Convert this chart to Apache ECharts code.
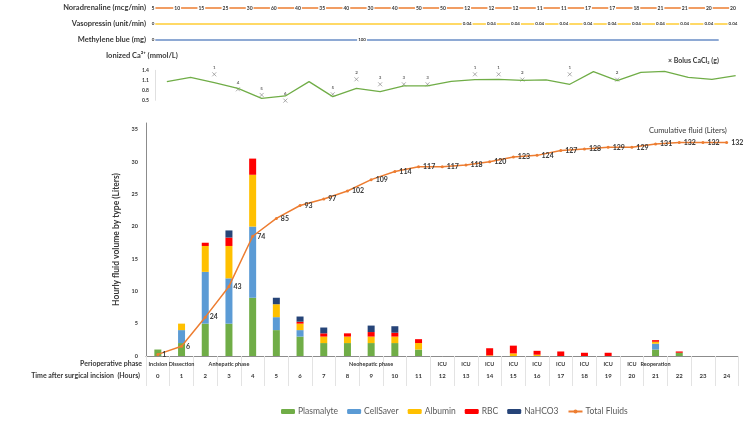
<!DOCTYPE html>
<html>
<head>
<meta charset="utf-8">
<script src="https://cdn.jsdelivr.net/npm/echarts@6/dist/echarts.min.js"></script>
<style>
html, body { margin: 0; padding: 0; background: #fff; }
#main { width: 750px; height: 422px; }
</style>
</head>
<body>
<div id="main"></div>
<script>
var FONT = 'Lato';
var TXT = '#383838';

// hourly columns
var hours = ['0','1','2','3','4','5','6','7','8','9','10','11','12','13','14','15','16','17','18','19','20','21','22','23','24'];
var phases = ['Incision','Dissection','','Anhepatic phase','','','','','','Neohepatic phase','','','ICU','ICU','ICU','ICU','ICU','ICU','ICU','ICU','ICU','Reoperation','','',''];

// fluids per hour (Liters)
var plasmalyte = [1, 2, 5, 5, 9, 4, 3, 2, 2, 2, 2, 1, 0, 0, 0, 0, 0, 0, 0, 0, 0, 1, 0.5, 0, 0];
var cellSaver  = [0, 2, 8, 7, 11, 2, 1, 0, 0, 0, 0, 0, 0, 0, 0, 0, 0, 0, 0, 0, 0, 0.9, 0, 0, 0];
var albumin    = [0, 1, 4, 5, 8, 2, 1, 1, 1, 1, 1, 1, 0, 0, 0.1, 0.4, 0.2, 0, 0, 0, 0, 0.3, 0, 0, 0];
var rbc        = [0, 0, 0.5, 1.3, 2.5, 0, 0.3, 0.5, 0.5, 0.7, 0.6, 0.6, 0, 0, 1.1, 1.2, 0.6, 0.7, 0.5, 0.5, 0, 0.25, 0.2, 0, 0];
var nahco3     = [0, 0, 0, 1.1, 0, 1, 0.8, 0.9, 0, 1, 1, 0, 0, 0, 0, 0, 0, 0, 0, 0, 0, 0, 0, 0, 0];
var totalFluids = [1, 6, 24, 43, 74, 85, 93, 97, 102, 109, 114, 117, 117, 118, 120, 123, 124, 127, 128, 129, 129, 131, 132, 132, 132];

// drug rows
var rowNames = ['Noradrenaline (mcg/min)', 'Vasopressin (unit/min)', 'Methylene blue (mg)'];
var noradrenaline = [5, 10, 15, 25, 30, 60, 40, 35, 40, 30, 40, 50, 50, 12, 12, 12, 11, 11, 17, 17, 18, 21, 21, 20, 20];
var vasopressin = [0, 0, 0, 0, 0, 0, 0, 0, 0, 0, 0, 0, 0, 0.04, 0.04, 0.04, 0.04, 0.04, 0.04, 0.04, 0.04, 0.04, 0.04, 0.04, 0.04];
var methyleneHours = [0, 8.65, 23.4];
var methyleneDose = ['0', '100', ''];

// ionized calcium
var ionCa = [1.06, 1.19, 1.03, 0.86, 0.56, 0.63, 1.06, 0.61, 0.86, 0.76, 0.93, 0.93, 1.07, 1.12, 1.13, 1.10, 1.11, 0.98, 1.36, 1.09, 1.34, 1.37, 1.19, 1.13, 1.24];
var bolusHour = [2, 3, 4, 5, 7, 8, 9, 10, 11, 13, 14, 15, 17, 19];
var bolusCa = [1.28, 0.83, 0.66, 0.49, 0.68, 1.13, 0.98, 0.98, 0.98, 1.28, 1.28, 1.12, 1.28, 1.12];
var bolusGrams = [1, 4, 5, 6, 5, 2, 3, 3, 3, 1, 1, 2, 1, 2];

var myChart = echarts.init(document.getElementById('main'));

function rowLabel(size) {
    return {
        show: true, position: 'inside', fontFamily: FONT, fontSize: size, fontWeight: 'bold',
        color: TXT, backgroundColor: '#fff', padding: [0, 1]
    };
}

var noraData = noradrenaline.map(function (v, i) {
    return { value: [i, 0], label: { formatter: String(v) } };
});
var vasoData = vasopressin.map(function (v, i) {
    return { value: [i, 1], label: { show: i === 0 || v > 0, formatter: String(v) } };
});
var mbData = methyleneHours.map(function (h, i) {
    return { value: [h, 2], label: { show: methyleneDose[i] !== '', formatter: methyleneDose[i] } };
});
var bolusData = bolusHour.map(function (h, i) {
    return { value: [h, bolusCa[i]], label: { formatter: String(bolusGrams[i]) } };
});

function barSeries(name, data, color) {
    return {
        name: name, type: 'bar', stack: 'fluid', xAxisIndex: 2, yAxisIndex: 2,
        barWidth: 7, data: data, itemStyle: { color: color }
    };
}

var caTicks = [0.5, 0.8, 1.1, 1.4];

option = {
    animation: false,
    textStyle: { fontFamily: FONT },
    grid: [
        { left: 153, right: 17, top: 0, height: 48 },
        { left: 155, right: 2.5, top: 70.3, height: 30 },
        { left: 146, right: 11.5, top: 123, height: 233 }
    ],
    legend: {
        left: 276, top: 402, itemWidth: 14, itemHeight: 5, itemGap: 9,
        textStyle: { fontFamily: FONT, fontSize: 8.5, color: '#595959', padding: [0, 0, 0, -2] },
        data: ['Plasmalyte', 'CellSaver', 'Albumin', 'RBC', 'NaHCO3', 'Total Fluids']
    },
    xAxis: [
        { type: 'value', gridIndex: 0, min: 0, max: 24, show: false },
        { type: 'category', gridIndex: 1, data: hours, show: false },
        {
            type: 'category', gridIndex: 2, data: hours, position: 'bottom',
            axisLine: { lineStyle: { color: '#8c8c8c', width: 1 } },
            axisTick: { show: true, length: 30, lineStyle: { color: '#e3e3e3' } },
            axisLabel: { interval: 0, margin: 17, fontSize: 6, fontWeight: 'bold', color: TXT }
        },
        {
            type: 'category', gridIndex: 2, data: phases, position: 'bottom',
            axisLine: { show: false }, axisTick: { show: false },
            axisLabel: { interval: 0, margin: 5, fontSize: 5.5, fontWeight: 'bold', color: TXT }
        }
    ],
    yAxis: [
        {
            type: 'category', gridIndex: 0, data: rowNames, inverse: true,
            axisLine: { show: false }, axisTick: { show: false },
            axisLabel: { margin: 7, fontSize: 7.5, fontWeight: 'bold', color: TXT }
        },
        {
            type: 'value', gridIndex: 1, min: 0.5, max: 1.4, interval: 0.1,
            splitLine: { show: false },
            axisLine: { show: true, lineStyle: { color: '#e0e0e0' } },
            axisTick: { show: false },
            axisLabel: {
                margin: 6, fontSize: 5, fontWeight: 'bold', color: TXT,
                formatter: function (v) {
                    return caTicks.some(function (t) { return Math.abs(t - v) < 1e-6; }) ? v.toFixed(1) : '';
                }
            }
        },
        {
            type: 'value', gridIndex: 2, min: 0, max: 36, interval: 5,
            name: 'Hourly fluid volume by type (Liters)', nameLocation: 'middle', nameGap: 25,
            nameTextStyle: { fontSize: 8.5, fontWeight: 'bold', color: TXT },
            splitLine: { show: false },
            axisLine: { show: true, lineStyle: { color: '#8c8c8c' } },
            axisTick: { show: false },
            axisLabel: { showMaxLabel: false, margin: 8, fontSize: 5.5, fontWeight: 'bold', color: TXT }
        },
        { type: 'value', gridIndex: 2, min: 0, max: 144, show: false, splitLine: { show: false } }
    ],
    series: [
        {
            name: 'Noradrenaline', type: 'line', xAxisIndex: 0, yAxisIndex: 0,
            symbol: 'circle', symbolSize: 1, data: noraData,
            lineStyle: { color: '#ED7D31', width: 1.3 }, itemStyle: { color: '#ED7D31' },
            label: rowLabel(5)
        },
        {
            name: 'Vasopressin', type: 'line', xAxisIndex: 0, yAxisIndex: 0,
            symbol: 'circle', symbolSize: 1, data: vasoData,
            lineStyle: { color: '#FFD966', width: 2 }, itemStyle: { color: '#FFD966' },
            label: rowLabel(4.5)
        },
        {
            name: 'Methylene blue', type: 'line', xAxisIndex: 0, yAxisIndex: 0,
            symbol: 'circle', symbolSize: 1, data: mbData,
            lineStyle: { color: '#8EA9D4', width: 2 }, itemStyle: { color: '#8EA9D4' },
            label: rowLabel(4.5)
        },
        {
            name: 'Ionized Ca', type: 'line', xAxisIndex: 1, yAxisIndex: 1,
            symbol: 'none', data: ionCa, lineStyle: { color: '#70AD47', width: 1.3 }
        },
        {
            name: 'Bolus CaCl2', type: 'scatter', xAxisIndex: 1, yAxisIndex: 1, clip: false,
            symbol: 'path://M0,0L10,10M10,0L0,10', symbolSize: 4, data: bolusData,
            itemStyle: { color: 'rgba(0,0,0,0)', borderColor: '#7f7f7f', borderWidth: 0.8 },
            label: { show: true, position: 'top', distance: 2, fontSize: 4.5, fontWeight: 'bold', color: TXT }
        },
        barSeries('Plasmalyte', plasmalyte, '#70AD47'),
        barSeries('CellSaver', cellSaver, '#5B9BD5'),
        barSeries('Albumin', albumin, '#FFC000'),
        barSeries('RBC', rbc, '#FF0000'),
        barSeries('NaHCO3', nahco3, '#264478'),
        {
            name: 'Total Fluids', type: 'line', xAxisIndex: 2, yAxisIndex: 3,
            data: totalFluids, symbol: 'circle', symbolSize: 3,
            lineStyle: { color: '#ED7D31', width: 1.5 }, itemStyle: { color: '#ED7D31' },
            label: { show: true, position: 'right', distance: 3, fontSize: 7, fontWeight: 'bold', color: TXT }
        }
    ],
    graphic: [
        { type: 'text', left: 106, top: 52, style: { text: 'Ionized Ca²⁺ (mmol/L)', font: 'bold 7.5px ' + FONT, fill: TXT } },
        { type: 'text', left: 668, top: 57, style: { text: '× Bolus CaCl₂ (g)', font: 'bold 7px ' + FONT, fill: TXT } },
        { type: 'text', left: 649, top: 127, style: { text: 'Cumulative fluid (Liters)', font: '7.5px ' + FONT, fill: TXT } },
        { type: 'text', right: 608, top: 360, style: { text: 'Perioperative phase', font: 'bold 7px ' + FONT, fill: TXT } },
        { type: 'text', right: 610, top: 372, style: { text: 'Time after surgical incision  (Hours)', font: 'bold 7px ' + FONT, fill: TXT } }
    ]
};

myChart.setOption(option);
</script>
</body>
</html>
